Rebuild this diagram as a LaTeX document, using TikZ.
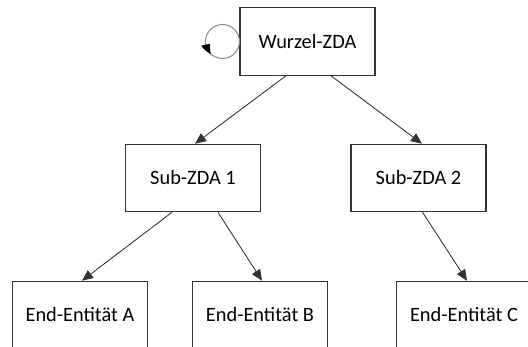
\documentclass[tikz,border=0pt]{standalone}
\usepackage{fontspec}
\setmainfont{Carlito}
\usepackage{tikz}
\usetikzlibrary{arrows.meta,bending,positioning,calc}

\begin{document}
\begin{tikzpicture}[
    ca/.style={rectangle, draw=black!80, line width=0.6pt, fill=white, minimum width=2.7cm, minimum height=1.35cm, font=\fontsize{11.6}{14}\selectfont},
    arrow/.style={-{Triangle[length=2.2mm, width=1.9mm]}, draw=black!80, line width=0.5pt},
    selfloop/.style={draw=black!45, line width=0.6pt}
]
    \useasboundingbox (0,0) rectangle (10.56,-6.94);

    % Root CA
    \node[ca] (root) at (6.15,-0.83) {Wurzel-ZDA};

    % Intermediate CAs
    \node[ca] (sub1) at (3.86,-3.56) {Sub-ZDA 1};
    \node[ca] (sub2) at (8.37,-3.56) {Sub-ZDA 2};

    % End entities
    \node[ca] (endA) at (1.6,-6.3) {End-Entität A};
    \node[ca] (endB) at (5.2,-6.3) {End-Entität B};
    \node[ca] (endC) at (9.28,-6.3) {End-Entität C};

    % Self-signed loop
    \draw[selfloop] (root.west) arc[start angle=360, end angle=218, radius=0.34];
    \draw[selfloop, -{Triangle[length=2.2mm, width=1.8mm, color=black, bend]}] (root.west) arc[start angle=0, end angle=228, radius=0.34];

    % Signing arrows
    \draw[arrow] ([xshift=-0.43cm]root.south) -- ([xshift=0.04cm]sub1.north);
    \draw[arrow] ([xshift=0.47cm]root.south) -- ([xshift=0.07cm]sub2.north);
    \draw[arrow] ([xshift=-0.42cm]sub1.south) -- ([xshift=0.04cm]endA.north);
    \draw[arrow] ([xshift=0.5cm]sub1.south) -- ([xshift=0.04cm]endB.north);
    \draw[arrow] ([xshift=0.08cm]sub2.south) -- ([xshift=0.06cm]endC.north);
\end{tikzpicture}
\end{document}
